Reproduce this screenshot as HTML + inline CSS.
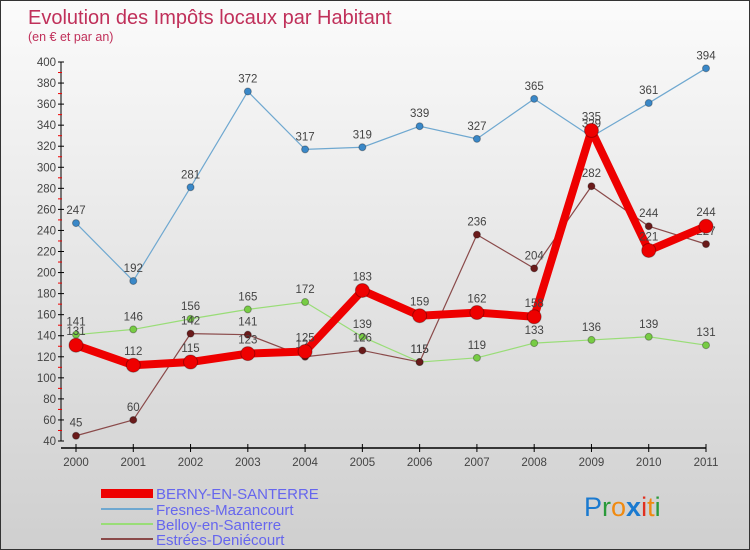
<!DOCTYPE html>
<html><head><meta charset="utf-8"><style>
body{margin:0}
#wrap{width:750px;height:550px;position:relative;box-sizing:border-box;border:1px solid #333;background:linear-gradient(#fbfbfb,#cfcfcf);font-family:"Liberation Sans",sans-serif;overflow:hidden}
</style></head><body>
<div id="wrap">
<svg id="c" width="750" height="550" style="position:absolute;left:0;top:0">
<text x="27" y="23" font-size="20" fill="#c0305a">Evolution des Impôts locaux par Habitant</text>
<text x="27" y="40" font-size="12.5" fill="#c0305a">(en € et par an)</text>
<g id="axes"></g><g id="series"></g>
<g>
<rect x="100" y="488" width="52" height="9" fill="#e00"/>
<text x="155" y="498" font-size="15" fill="#6666ee">BERNY-EN-SANTERRE</text>
<line x1="100" y1="508" x2="152" y2="508" stroke="#6fa8d0" stroke-width="2"/>
<text x="155" y="514" font-size="15" fill="#6666ee">Fresnes-Mazancourt</text>
<line x1="100" y1="523" x2="152" y2="523" stroke="#99dd77" stroke-width="2"/>
<text x="155" y="529" font-size="15" fill="#6666ee">Belloy-en-Santerre</text>
<line x1="100" y1="538" x2="152" y2="538" stroke="#8a4a4a" stroke-width="2"/>
<text x="155" y="544" font-size="15" fill="#6666ee">Estrées-Deniécourt</text>
</g>
<text x="583" y="515" font-size="27"><tspan fill="#1a7ad0">P</tspan><tspan fill="#2a9a3a">r</tspan><tspan fill="#f08a10">o</tspan><tspan fill="#1a7ad0" font-weight="bold">x</tspan><tspan fill="#e03020">i</tspan><tspan fill="#f08a10">t</tspan><tspan fill="#2a9a3a">i</tspan></text>
</svg>
</div>
<script>
const years=[2000,2001,2002,2003,2004,2005,2006,2007,2008,2009,2010,2011];
const yTicks=[40,60,80,100,120,140,160,180,200,220,240,260,280,300,320,340,360,380,400];
const berny=[131,112,115,123,125,183,159,162,158,335,221,244];
const fresnes=[247,192,281,372,317,319,339,327,365,329,361,394];
const belloy=[141,146,156,165,172,139,115,119,133,136,139,131];
const estrees=[45,60,142,141,120,126,115,236,204,282,244,227];
const NS="http://www.w3.org/2000/svg";
const X=i=>75+i*(630/11);
const Y=v=>440-(v-40)*(379/360);
function mk(t,a,p){const e=document.createElementNS(NS,t);for(const k in a)e.setAttribute(k,a[k]);p.appendChild(e);return e;}
const ax=document.getElementById('axes');
let l=mk('line',{x1:60,y1:Y(400),x2:60,y2:440,stroke:'#000'},ax);


l=mk('line',{x1:60,y1:447,x2:X(11),y2:447,stroke:'#000','stroke-width':1.5},ax);


yTicks.forEach(v=>{
 mk('line',{x1:57,y1:Y(v),x2:63,y2:Y(v),stroke:'#000'},ax);
 if(v<400)mk('line',{x1:57,y1:Y(v+10),x2:61,y2:Y(v+10),stroke:'#e00'},ax);
 const t=mk('text',{x:55,y:Y(v)+4,'text-anchor':'end','font-size':11.5,fill:'#444'},ax);t.textContent=v;
 
 
});
years.forEach((y,i)=>{
 mk('line',{x1:X(i),y1:443,x2:X(i),y2:451,stroke:'#000'},ax);
 const t=mk('text',{x:X(i),y:465,'text-anchor':'middle','font-size':11.5,fill:'#444'},ax);t.textContent=y;
 
 
});
const sg=document.getElementById('series');
function draw(data,color,w,r,dot,name,off){
 const g=mk('g',{},sg);
 
 
 mk('polyline',{points:data.map((v,i)=>X(i)+','+Y(v)).join(' '),fill:'none',stroke:color,'stroke-width':w,'stroke-linejoin':'round'},g);
 data.forEach((v,i)=>{
  const c=mk('circle',{cx:X(i),cy:Y(v),r:r,fill:dot,stroke:'rgba(0,0,0,0.3)'},g);
  
  
  const t=mk('text',{x:X(i),y:Y(v)-off,'text-anchor':'middle','font-size':11.5,fill:'#444'},g);t.textContent=v;
  
  
 });
}
draw(fresnes,'#6fa8d0',1.2,3.5,'#3a88c8','series-fresnes',9);
draw(belloy,'#99dd77',1.2,3.5,'#77cc44','series-belloy',9);
draw(estrees,'#8a4a4a',1.2,3.5,'#6a1a1a','series-estrees',9);
draw(berny,'#ee0000',8,7,'#ee0000','series-berny',10);
</script>
</body></html>
